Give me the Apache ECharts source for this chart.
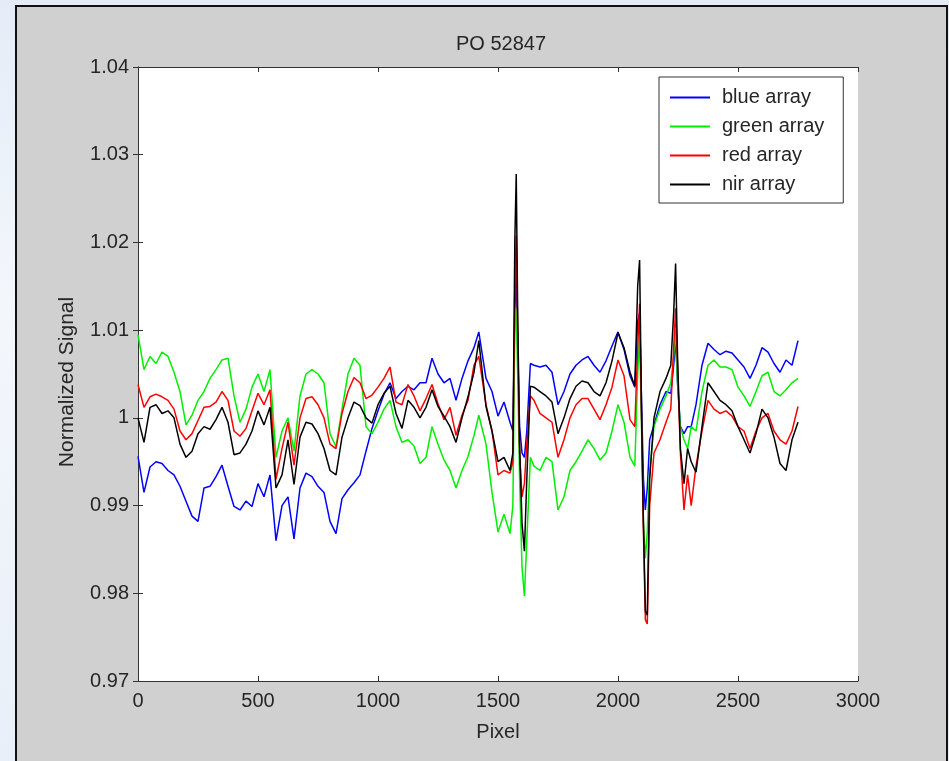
<!DOCTYPE html>
<html>
<head>
<meta charset="utf-8">
<script src="https://cdn.jsdelivr.net/npm/echarts@6/dist/echarts.min.js"></script>
<style>
html,body{margin:0;padding:0;width:949px;height:761px;overflow:hidden;
background:linear-gradient(to bottom,#e4ecf7 0%,#f3f7fc 40%,#e9eff8 100%);}
#frame{position:absolute;left:15px;top:5px;width:929px;height:760px;background:#d0d0d0;
border-left:2px solid #111;border-top:2px solid #111;border-right:2px solid #111;}
#chart{position:absolute;left:0;top:0;width:949px;height:761px;}
</style>
</head>
<body>
<div id="frame"></div>
<div id="chart"></div>
<script>
const chartTitle = 'PO 52847';
const xName = 'Pixel';
const yName = 'Normalized Signal';
const seriesNames = ['blue array', 'green array', 'red array', 'nir array'];
const xTickLabels = ['0', '500', '1000', '1500', '2000', '2500', '3000'];
const yTickValues = [0.97, 0.98, 0.99, 1.00, 1.01, 1.02, 1.03, 1.04];
const yTickLabels = ['0.97', '0.98', '0.99', '1', '1.01', '1.02', '1.03', '1.04'];

const pixels = [0,25,50,75,100,125,150,175,200,225,
250,275,300,325,350,375,400,425,450,475,
500,525,550,575,600,625,650,675,700,725,
750,775,800,825,850,875,900,925,950,975,
1000,1025,1050,1075,1100,1125,1150,1175,1200,1225,
1250,1275,1300,1325,1350,1375,1400,
1420,1450,1475,1500,1525,1550,
1562,1570,1576,1582,1590,1600,1610,1620,1635,1650,
1675,1700,1725,1750,1775,1800,1825,1850,1875,1900,1925,1950,1975,2000,2025,2050,
2070,2082,2090,2098,2106,2114,2122,2132,2150,
2175,2200,2220,2232,2240,2248,2260,2275,2290,2305,2325,
2350,2375,2400,2425,2450,2475,2500,2525,2550,2575,2600,2625,2650,2675,2700,2725,2750];

const blueArray = [0.9956,0.9915,0.9944,0.9950,0.9948,0.9940,0.9935,0.9922,0.9905,0.9888,
0.9882,0.9920,0.9922,0.9933,0.9946,0.9922,0.9899,0.9895,0.9905,0.9899,
0.9925,0.9910,0.9935,0.9860,0.9900,0.9910,0.9862,0.9920,0.9937,0.9933,
0.9922,0.9915,0.9882,0.9868,0.9908,0.9918,0.9926,0.9935,0.9962,0.9988,
1.0008,1.0027,1.0040,1.0022,1.0030,1.0036,1.0032,1.0040,1.0040,1.0068,
1.0050,1.0040,1.0045,1.0020,1.0045,1.0065,1.0080,
1.0098,1.0045,1.0030,1.0002,1.0018,0.9995,
0.9985,1.0120,1.0168,1.0080,0.9990,0.9960,0.9955,0.9985,1.0062,1.0060,
1.0058,1.0060,1.0052,1.0015,1.0030,1.0050,1.0060,1.0066,1.0070,1.0060,1.0052,1.0065,1.0082,1.0098,1.0078,1.0048,
1.0035,1.0110,1.0120,1.0020,0.9930,0.9895,0.9920,0.9975,0.9992,
1.0015,1.0030,1.0028,1.0060,1.0090,1.0040,0.9990,0.9982,0.9990,0.9990,1.0015,
1.0060,1.0085,1.0078,1.0072,1.0076,1.0074,1.0066,1.0058,1.0045,1.0060,1.0080,1.0075,1.0062,1.0052,1.0066,1.0060,1.0088];

const greenArray = [1.0095,1.0055,1.0070,1.0062,1.0075,1.0070,1.0052,1.0030,0.9992,1.0003,
1.0020,1.0030,1.0045,1.0055,1.0066,1.0068,1.0025,0.9995,1.0010,1.0035,
1.0050,1.0030,1.0055,0.9955,0.9985,1.0000,0.9962,1.0025,1.0050,1.0055,
1.0050,1.0040,0.9982,0.9967,1.0010,1.0050,1.0068,1.0060,0.9990,0.9982,
0.9995,1.0010,1.0020,0.9990,0.9972,0.9975,0.9968,0.9948,0.9955,0.9990,
0.9970,0.9952,0.9940,0.9920,0.9940,0.9956,0.9980,
1.0003,0.9970,0.9915,0.9870,0.9890,0.9868,
0.9900,1.0100,1.0125,1.0050,0.9930,0.9830,0.9797,0.9860,0.9955,0.9945,
0.9940,0.9955,0.9950,0.9895,0.9910,0.9940,0.9950,0.9962,0.9975,0.9965,0.9952,0.9960,0.9985,1.0015,0.9995,0.9955,
0.9945,1.0050,1.0095,0.9990,0.9880,0.9840,0.9870,0.9940,0.9990,
1.0010,1.0025,1.0040,1.0070,1.0100,1.0040,0.9990,0.9975,0.9965,0.9990,0.9985,
1.0030,1.0060,1.0066,1.0058,1.0058,1.0055,1.0035,1.0025,1.0013,1.0030,1.0048,1.0052,1.0030,1.0025,1.0032,1.0040,1.0045];

const redArray = [1.0038,1.0012,1.0024,1.0027,1.0024,1.0020,1.0010,0.9985,0.9975,0.9982,
0.9997,1.0012,1.0013,1.0018,1.0030,1.0020,0.9985,0.9979,0.9988,1.0008,
1.0028,1.0015,1.0032,0.9930,0.9965,0.9995,0.9946,1.0000,1.0022,1.0024,
1.0015,1.0000,0.9970,0.9965,1.0005,1.0030,1.0046,1.0040,1.0022,1.0026,
1.0035,1.0045,1.0058,1.0018,1.0015,1.0038,1.0025,1.0008,1.0022,1.0038,
1.0016,0.9998,1.0012,0.9980,1.0003,1.0020,1.0060,
1.0070,1.0015,0.9985,0.9935,0.9940,0.9937,
0.9950,1.0150,1.0208,1.0100,0.9960,0.9910,0.9925,0.9970,1.0025,1.0020,
1.0005,1.0000,0.9995,0.9955,0.9975,1.0000,1.0015,1.0022,1.0022,1.0010,0.9998,1.0015,1.0035,1.0066,1.0048,0.9998,
0.9990,1.0080,1.0130,1.0000,0.9870,0.9770,0.9765,0.9900,0.9960,
0.9975,0.9995,1.0010,1.0080,1.0125,1.0060,0.9960,0.9895,0.9935,0.9900,0.9945,
0.9985,1.0020,1.0010,1.0005,1.0008,1.0002,0.9990,0.9985,0.9965,0.9985,1.0000,1.0005,0.9985,0.9975,0.9970,0.9985,1.0013];

const nirArray = [1.0000,0.9972,1.0012,1.0015,1.0005,1.0008,1.0000,0.9970,0.9955,0.9962,
0.9982,0.9990,0.9987,0.9998,1.0012,0.9995,0.9958,0.9960,0.9970,0.9985,
1.0008,0.9992,1.0012,0.9920,0.9935,0.9975,0.9924,0.9978,0.9995,0.9993,
0.9982,0.9965,0.9940,0.9935,0.9978,1.0000,1.0018,1.0014,1.0000,0.9994,
1.0015,1.0028,1.0036,1.0005,0.9988,1.0020,1.0012,1.0000,1.0012,1.0032,
1.0013,1.0002,0.9990,0.9972,1.0000,1.0024,1.0052,
1.0088,1.0013,0.9985,0.9950,0.9955,0.9940,
0.9960,1.0200,1.0278,1.0120,0.9970,0.9880,0.9848,0.9930,1.0036,1.0035,
1.0030,1.0025,1.0018,0.9982,1.0000,1.0022,1.0036,1.0042,1.0040,1.0030,1.0025,1.0040,1.0065,1.0097,1.0080,1.0052,
1.0036,1.0150,1.0180,1.0010,0.9880,0.9780,0.9775,0.9930,1.0000,
1.0030,1.0045,1.0060,1.0120,1.0176,1.0070,0.9965,0.9925,0.9965,0.9950,0.9938,
0.9990,1.0040,1.0030,1.0020,1.0015,1.0008,0.9990,0.9975,0.9960,0.9982,1.0010,1.0000,0.9978,0.9948,0.9940,0.9975,0.9995];

const seriesValues = [blueArray, greenArray, redArray, nirArray];
const seriesColors = ['#0000ff', '#00ee00', '#ff0000', '#000000'];

const FONT = 'Arial, "Liberation Sans", sans-serif';
const TXT = '#262626';
const FS = 20;

function pairs(vals) { return pixels.map((p, i) => [p, vals[i]]); }

const chart = echarts.init(document.getElementById('chart'), null, {renderer: 'canvas'});
const axisLine = {show: true, lineStyle: {color: '#333', width: 1}};
const tick = {show: true, inside: true, length: 5, lineStyle: {color: '#333'}};

chart.setOption({
  animation: false,
  backgroundColor: 'transparent',
  textStyle: {fontFamily: FONT},
  title: {
    text: chartTitle, left: 496, top: 29, textAlign: 'center',
    textStyle: {fontFamily: FONT, fontSize: FS, fontWeight: 'normal', color: TXT}
  },
  grid: {left: 138, right: 91, top: 67, bottom: 80, show: true, backgroundColor: '#ffffff', borderWidth: 0},
  legend: {
    orient: 'vertical', left: 659, top: 77,
    backgroundColor: '#ffffff', borderColor: '#333', borderWidth: 1, borderRadius: 0,
    padding: [10, 19, 8, 11],
    icon: 'rect', itemWidth: 40, itemHeight: 2, itemGap: 8,
    textStyle: {fontFamily: FONT, fontSize: FS, lineHeight: 21, color: TXT, padding: [0, 0, 0, 7]},
    data: seriesNames
  },
  xAxis: [{
    type: 'value', min: 0, max: 3000, interval: 500, position: 'bottom',
    axisLine: axisLine, axisTick: tick, splitLine: {show: false},
    axisLabel: {fontFamily: FONT, fontSize: FS, color: TXT, margin: 10,
      formatter: function (v) { return xTickLabels[Math.round(v / 500)]; }},
    name: xName, nameLocation: 'middle', nameGap: 41,
    nameTextStyle: {fontFamily: FONT, fontSize: FS, color: TXT}
  }, {
    type: 'value', min: 0, max: 3000, interval: 500, position: 'top',
    axisLine: axisLine, axisTick: tick, splitLine: {show: false},
    axisLabel: {show: false}
  }],
  yAxis: [{
    type: 'value', min: 0.97, max: 1.04, interval: 0.01, position: 'left',
    axisLine: axisLine, axisTick: tick, splitLine: {show: false},
    axisLabel: {
      fontFamily: FONT, fontSize: FS, color: TXT, margin: 9,
      formatter: function (v) {
        let best = 0;
        yTickValues.forEach((t, i) => { if (Math.abs(t - v) < Math.abs(yTickValues[best] - v)) best = i; });
        return yTickLabels[best];
      }
    },
    name: yName, nameLocation: 'middle', nameGap: 60, nameRotate: 90,
    nameTextStyle: {fontFamily: FONT, fontSize: 21, color: TXT, padding: [0, 16, 0, 0]}
  }, {
    type: 'value', min: 0.97, max: 1.04, interval: 0.01, position: 'right',
    axisLine: axisLine, axisTick: tick, splitLine: {show: false},
    axisLabel: {show: false}
  }],
  series: seriesNames.map((name, i) => ({
    name: name, type: 'line', xAxisIndex: 0, yAxisIndex: 0,
    data: pairs(seriesValues[i]),
    symbol: 'none', showSymbol: false, sampling: null,
    color: seriesColors[i],
    lineStyle: {color: seriesColors[i], width: 1.5},
    z: 2 + i
  }))
});
</script>
</body>
</html>
